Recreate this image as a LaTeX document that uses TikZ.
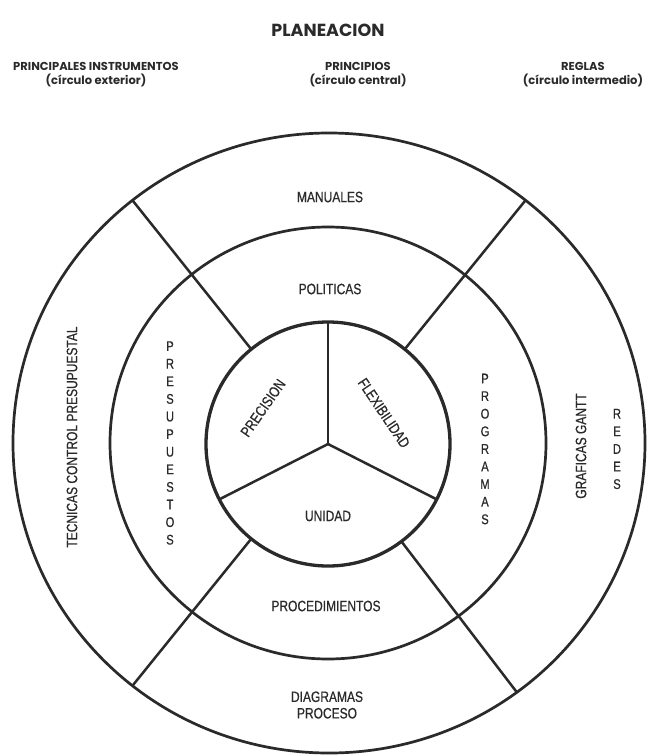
\documentclass[tikz,border=0pt]{standalone}
\usepackage{fontspec}
\setmainfont{Liberation Sans}
\newfontfamily\headfont{Poppins}
\newfontfamily\labelfont[FakeStretch=0.8, FakeBold=0.6]{Liberation Sans}
\usetikzlibrary{shapes.geometric}
\definecolor{ink}{HTML}{2A2A2A}

\begin{document}
\begin{tikzpicture}[x=1pt, y=-1pt,
    ring/.style={draw=ink, line width=2.7pt, ellipse, inner sep=0pt, outer sep=0pt},
    spoke/.style={draw=ink, line width=2.5pt},
    lbl/.style={font=\labelfont\fontsize{15}{17}\selectfont, text=ink, inner sep=0pt},
    stack/.style={lbl, align=center, font=\labelfont\fontsize{14}{17.6}\selectfont},
    head/.style={font=\headfont\bfseries\fontsize{11.5}{14}\selectfont, text=ink, align=center}]

  \useasboundingbox (0,0) rectangle (647,755);
  \fill[white] (0,0) rectangle (647,755);

  % titulos
  \node[head, font=\headfont\bfseries\fontsize{17.5}{18}\selectfont] (titulo) at (328,30) {PLANEACION};
  \node[head] (instrumentos) at (96,75) {PRINCIPALES INSTRUMENTOS\\(círculo exterior)};
  \node[head] (principios) at (358,75) {PRINCIPIOS\\(círculo central)};
  \node[head] (reglas) at (583,75) {REGLAS\\(círculo intermedio)};

  % circulos
  \node[ring, minimum width=632pt, minimum height=620pt] (exterior) at (329,443) {};
  \node[ring, minimum width=436pt, minimum height=432pt] (intermedio) at (328,443) {};
  \node[ring, line width=3.3pt, minimum size=244pt] (central) at (328,444) {};

  % radios
  \draw[spoke] (central.129) -- (exterior.129);
  \draw[spoke] (central.51) -- (exterior.51);
  \draw[spoke] (central.231) -- (exterior.231);
  \draw[spoke] (central.307) -- (exterior.307);
  \draw[spoke] (central.center) -- (central.90);
  \draw[spoke] (central.center) -- (central.207);
  \draw[spoke] (central.center) -- (central.333);

  % circulo central
  \node[lbl, rotate=55] (precision) at (263,408) {PRECISION};
  \node[lbl, rotate=-56] (flexibilidad) at (384,413) {FLEXIBILIDAD};
  \node[lbl] (unidad) at (328,516) {UNIDAD};

  % circulo intermedio
  \node[lbl] (politicas) at (330,289) {POLITICAS};
  \node[lbl] (procedimientos) at (326,606) {PROCEDIMIENTOS};
  \node[stack] (presupuestos) at (170,443) {P\\R\\E\\S\\U\\P\\U\\E\\S\\T\\O\\S};
  \node[stack] (programas) at (485,449) {P\\R\\O\\G\\R\\A\\M\\A\\S};

  % circulo exterior
  \node[lbl] (manuales) at (330,197) {MANUALES};
  \node[lbl, align=center, font=\labelfont\fontsize{15}{16.5}\selectfont] (diagramas) at (327,705) {DIAGRAMAS\\PROCESO};
  \node[lbl, rotate=90] (tecnicas) at (72,437) {TECNICAS CONTROL PRESUPUESTAL};
  \node[lbl, rotate=90] (graficas) at (581,446) {GRAFICAS GANTT};
  \node[stack] (redes) at (617,449) {R\\E\\D\\E\\S};
\end{tikzpicture}
\end{document}
